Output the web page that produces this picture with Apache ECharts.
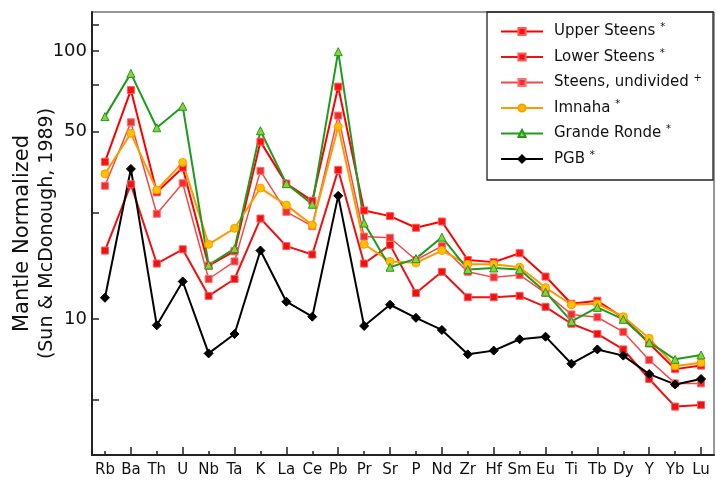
<!DOCTYPE html>
<html>
<head>
<meta charset="utf-8">
<script src="https://cdn.jsdelivr.net/npm/echarts@6/dist/echarts.min.js"></script>
<style>html,body{margin:0;padding:0;background:#fff}#c{width:716px;height:483px}</style>
</head>
<body>
<div id="c"></div>
<script>
const categories = ['Rb','Ba','Th','U','Nb','Ta','K','La','Ce','Pb','Pr','Sr','P','Nd','Zr','Hf','Sm','Eu','Ti','Tb','Dy','Y','Yb','Lu'];
const upperSteens    = [38.6, 71.5, 29.7, 36.7, 15.8, 17.9, 45.9, 32.0, 27.6, 73.6, 25.4, 24.2, 21.9, 23.1, 16.6, 16.3, 17.6, 14.4, 11.4, 11.7, 10.1, 8.1, 6.5, 6.7];
const lowerSteens    = [18.0, 31.8, 16.1, 18.2, 12.2, 14.1, 23.7, 18.7, 17.4, 36.0, 16.1, 18.9, 12.5, 15.0, 12.05, 12.05, 12.2, 11.1, 9.6, 8.8, 7.7, 5.97, 4.71, 4.78];
const steensUndiv    = [31.4, 54.2, 24.7, 32.1, 14.1, 16.4, 35.7, 25.1, 22.2, 57.4, 20.3, 20.1, 16.6, 18.7, 15.0, 14.3, 14.6, 12.5, 10.4, 10.15, 8.95, 7.03, 5.75, 5.75];
const imnaha         = [34.8, 49.3, 30.3, 38.4, 19.0, 21.8, 30.8, 26.6, 22.4, 52.2, 19.0, 16.4, 16.2, 18.0, 16.0, 16.0, 15.6, 13.1, 11.3, 11.4, 10.2, 8.47, 6.68, 6.87];
const grandeRonde    = [56.9, 82.5, 51.7, 62.2, 15.9, 18.3, 50.4, 32.0, 26.8, 99.4, 22.8, 15.6, 16.8, 20.2, 15.3, 15.5, 15.3, 12.6, 9.8, 11.05, 9.97, 8.18, 7.07, 7.34];
const pgb            = [12.0, 36.3, 9.47, 13.8, 7.44, 8.79, 18.0, 11.6, 10.2, 28.8, 9.42, 11.3, 10.1, 9.10, 7.38, 7.62, 8.40, 8.59, 6.81, 7.70, 7.30, 6.23, 5.70, 5.97];
const yTickValues  = [5, 10, 25, 50, 75, 100, 125];
const yLabelValues = [10, 50, 100];
const seriesNames = ['Upper Steens', 'Lower Steens', 'Steens, undivided', 'Imnaha', 'Grande Ronde', 'PGB'];
const legendMarks = {'Upper Steens':'*', 'Lower Steens':'*', 'Steens, undivided':'+', 'Imnaha':'*', 'Grande Ronde':'*', 'PGB':'*'};

const FONT = 'DejaVu Sans';
function mk(name, data, lineColor, lineW, symbol, size, fill, border) {
  return {
    name: name, type: 'line', data: data, xAxisIndex: 0, yAxisIndex: 0,
    symbol: symbol, symbolSize: size,
    lineStyle: {color: lineColor, width: lineW},
    itemStyle: {color: fill, borderColor: border, borderWidth: 1},
    emphasis: {disabled: true}, silent: true
  };
}

const chart = echarts.init(document.getElementById('c'), null, {renderer: 'canvas'});
chart.setOption({
  animation: false,
  backgroundColor: '#ffffff',
  grid: {left: 92, right: 2, top: 12, bottom: 28, show: true, borderColor: '#333', borderWidth: 1, containLabel: false, outerBoundsMode: 'none'},
  graphic: [{
    type: 'rect', z: 1,
    shape: {x: 487, y: 12, width: 226, height: 168},
    style: {fill: 'rgba(0,0,0,0)', stroke: '#222', lineWidth: 1.3}
  }],
  legend: {
    data: seriesNames, orient: 'vertical', left: 500, top: 22.5, padding: 0,
    itemWidth: 42, itemHeight: 9, itemGap: 7.5, selectedMode: false,
    formatter: function (n) { return n + ' {sup|' + legendMarks[n] + '}'; },
    textStyle: {fontFamily: FONT, fontSize: 15, color: '#111', lineHeight: 18, padding: [0, 0, 0, 6],
      rich: {sup: {fontFamily: FONT, fontSize: 10, color: '#111', verticalAlign: 'top', lineHeight: 18}}}
  },
  xAxis: [{
    type: 'category', data: categories, boundaryGap: true, position: 'bottom',
    axisLine: {show: true, onZero: false, lineStyle: {color: '#222', width: 2}},
    axisTick: {show: true, alignWithLabel: true, inside: true, length: 8, interval: function (i) { return i % 2 === 1; }, lineStyle: {color: '#222', width: 1.5}},
    axisLabel: {interval: 0, fontFamily: FONT, fontSize: 15, color: '#111', margin: 8},
    splitLine: {show: false}
  }, {
    type: 'category', data: categories, boundaryGap: true, position: 'bottom',
    axisLine: {show: false, onZero: false},
    axisTick: {show: true, alignWithLabel: true, inside: true, length: 4, interval: function (i) { return i % 2 === 0; }, lineStyle: {color: '#222', width: 1.5}},
    axisLabel: {show: false}, splitLine: {show: false}
  }],
  yAxis: {
    type: 'log', logBase: 10, min: 3.108, max: 139.8,
    axisLine: {show: true, lineStyle: {color: '#222', width: 2}},
    axisTick: {show: true, inside: true, length: 7, customValues: yTickValues, lineStyle: {color: '#222', width: 1.5}},
    axisLabel: {customValues: yLabelValues, fontFamily: FONT, fontSize: 18, color: '#111', margin: 5},
    splitLine: {show: false}, minorTick: {show: false},
    name: '{a|Mantle Normalized}\n{b|(Sun & McDonough, 1989)}', nameLocation: 'middle', nameGap: 32, nameRotate: 90,
    nameMoveOverlap: false,
    nameTextStyle: {fontFamily: FONT, fontSize: 19, lineHeight: 25, color: '#111', align: 'center',
      rich: {a: {fontFamily: FONT, fontSize: 21, lineHeight: 25, color: '#111'},
             b: {fontFamily: FONT, fontSize: 19, lineHeight: 25, color: '#111'}}}
  },
  series: [
    mk(seriesNames[0], upperSteens, '#ff0000', 2, 'rect', 7, '#ff1010', '#ff5a5a'),
    mk(seriesNames[1], lowerSteens, '#ee1111', 2, 'rect', 7, '#ee1111', '#ff5a5a'),
    mk(seriesNames[2], steensUndiv, '#f24848', 1.5, 'rect', 7, '#f03030', '#ff7070'),
    mk(seriesNames[3], imnaha, '#ff9900', 2, 'circle', 8, '#ffc000', '#ff9900'),
    mk(seriesNames[4], grandeRonde, '#1e9b1e', 2, 'triangle', 8, '#8fcf3c', '#1e9b1e'),
    mk(seriesNames[5], pgb, '#000000', 2, 'diamond', 9, '#000000', '#000000')
  ]
});
</script>
</body>
</html>
